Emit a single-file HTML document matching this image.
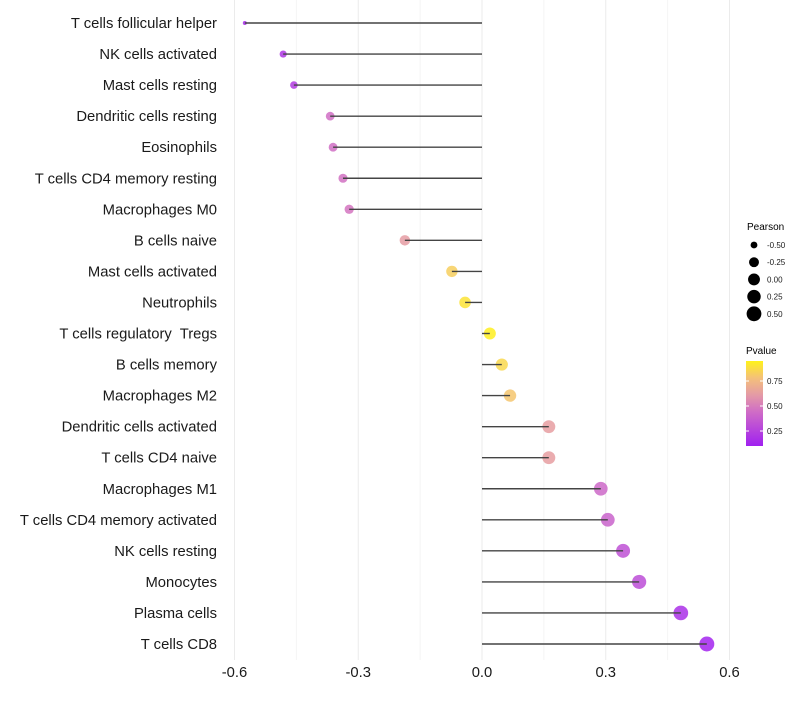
<!DOCTYPE html>
<html><head><meta charset="utf-8"><style>
body{margin:0;background:#fff;font-family:"Liberation Sans",sans-serif}
svg text{font-family:"Liberation Sans",sans-serif;white-space:pre}
</style></head><body>
<svg id="chart" width="800" height="700" xmlns="http://www.w3.org/2000/svg">
<g id="grid"></g><g id="marks"></g><g id="axes"></g>
<g id="legend">
<text x="747" y="230" font-size="10">Pearson</text>
<g id="sizeLeg"></g>
<text x="746" y="354" font-size="10">Pvalue</text>
<defs><linearGradient id="pg" x1="0" y1="1" x2="0" y2="0">
<stop offset="0" stop-color="#a020f0"/><stop offset="0.4" stop-color="#cf6cc6"/><stop offset="0.6" stop-color="#e49aa6"/><stop offset="0.8" stop-color="#f4c07a"/><stop offset="1" stop-color="#fff21a"/></linearGradient></defs>
<rect x="746" y="361" width="17" height="85" fill="url(#pg)"/>
<g id="colLeg"></g>
</g>
</svg>
<script>
const categories=["T cells follicular helper","NK cells activated","Mast cells resting","Dendritic cells resting","Eosinophils","T cells CD4 memory resting","Macrophages M0","B cells naive","Mast cells activated","Neutrophils","T cells regulatory  Tregs","B cells memory","Macrophages M2","Dendritic cells activated","T cells CD4 naive","Macrophages M1","T cells CD4 memory activated","NK cells resting","Monocytes","Plasma cells","T cells CD8"];
const pearson=[-0.575,-0.482,-0.456,-0.368,-0.361,-0.337,-0.322,-0.187,-0.073,-0.041,0.019,0.048,0.068,0.162,0.162,0.288,0.305,0.342,0.381,0.482,0.545];
const pvalues=[0.15,0.2,0.22,0.45,0.45,0.46,0.47,0.62,0.83,0.9,0.94,0.86,0.8,0.63,0.63,0.42,0.4,0.32,0.3,0.17,0.12];
const xTicks=[-0.6,-0.3,0,0.3,0.6];
const xTickLabels=["-0.6","-0.3","0.0","0.3","0.6"];
const sizeLegendVals=[-0.5,-0.25,0,0.25,0.5];
const sizeLegendLabels=["-0.50","-0.25","0.00","0.25","0.50"];
const colorLegendVals=[0.75,0.5,0.25];
const colorLegendLabels=["0.75","0.50","0.25"];
const NS="http://www.w3.org/2000/svg";
const X=v=>482+v*412.5;
const Y=i=>23+i*31.05;
const R=v=>2+5.5*Math.sqrt(Math.max(0,(v+0.575)/1.12));
const PY=p=>446-(p-0.10)/0.85*85;
const stops=[[0,[160,32,240]],[0.4,[207,108,198]],[0.6,[228,154,166]],[0.8,[244,192,122]],[1,[255,242,26]]];
function col(p){let t=Math.max(0,Math.min(1,(p-0.10)/0.85));for(let k=1;k<stops.length;k++){if(t<=stops[k][0]){const a=stops[k-1],b=stops[k],f=(t-a[0])/(b[0]-a[0]);return "rgb("+a[1].map((c,j)=>Math.round(c+(b[1][j]-c)*f)).join(",")+")";}}return "rgb(255,242,26)";}
function mk(tag,attrs,parent){const e=document.createElementNS(NS,tag);for(const k in attrs)e.setAttribute(k,attrs[k]);parent.appendChild(e);return e;}
const grid=document.getElementById('grid'),marks=document.getElementById('marks'),axes=document.getElementById('axes');
for(let v=-0.6;v<=0.61;v+=0.15){const g=mk('line',{x1:X(v),x2:X(v),y1:0,y2:660,stroke:Math.abs(Math.round(v/0.15))%2===0?'#ebebeb':'#f4f4f4','stroke-width':1},grid);

}
categories.forEach((c,i)=>{
 const d=mk('circle',{cx:X(pearson[i]),cy:Y(i),r:R(pearson[i]),fill:col(pvalues[i]),'fill-opacity':0.85},marks);
 
 
 const l=mk('line',{x1:X(0),x2:X(pearson[i]),y1:Y(i),y2:Y(i),stroke:'#444','stroke-width':1.4},marks);
 
 
 const t=mk('text',{x:217,y:Y(i)+5,'text-anchor':'end','font-size':14.8,fill:'#1a1a1a'},axes);t.textContent=c;
 
 
});
xTicks.forEach((v,i)=>{const t=mk('text',{x:X(v),y:677,'text-anchor':'middle','font-size':14.8,fill:'#1a1a1a'},axes);t.textContent=xTickLabels[i];
 
 });
const sl=document.getElementById('sizeLeg');
sizeLegendVals.forEach((v,i)=>{const y=245+i*17.2;const c=mk('circle',{cx:754,cy:y,r:R(v),fill:'#000'},sl);
 
 
 const t=mk('text',{x:767,y:y+3,'font-size':8,fill:'#1a1a1a'},sl);t.textContent=sizeLegendLabels[i];
 
 });
const cl=document.getElementById('colLeg');
colorLegendVals.forEach((v,i)=>{const y=PY(v);
 const a=mk('line',{x1:746,x2:749,y1:y,y2:y,stroke:'#fff'},cl);
 const b=mk('line',{x1:760,x2:763,y1:y,y2:y,stroke:'#fff'},cl);
 const t=mk('text',{x:767,y:y+3,'font-size':8,fill:'#1a1a1a'},cl);t.textContent=colorLegendLabels[i];
 
 });
</script>
</body></html>
